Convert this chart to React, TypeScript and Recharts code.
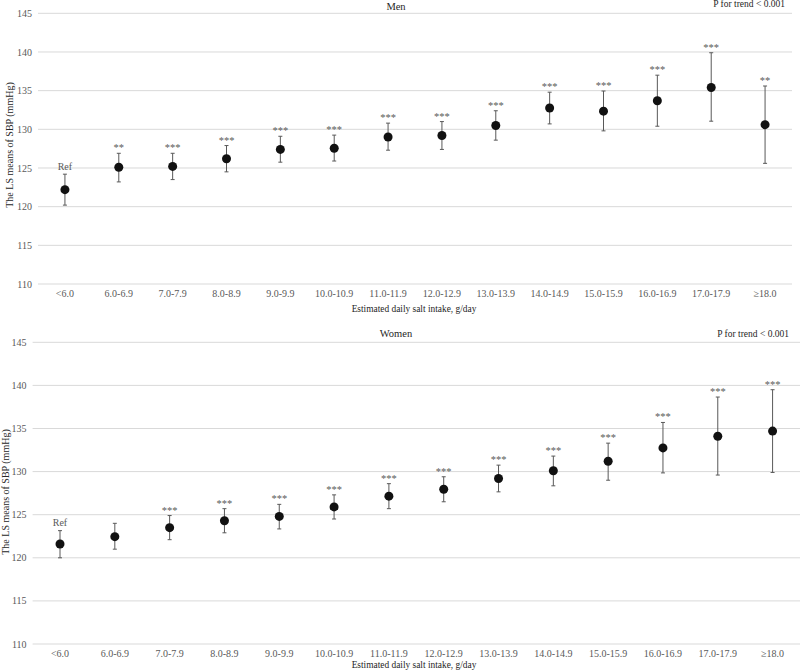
import React from "react";
import { LineChart, Line, XAxis, YAxis, CartesianGrid, ErrorBar } from "recharts";

const categories = [
  "<6.0",
  "6.0-6.9",
  "7.0-7.9",
  "8.0-8.9",
  "9.0-9.9",
  "10.0-10.9",
  "11.0-11.9",
  "12.0-12.9",
  "13.0-13.9",
  "14.0-14.9",
  "15.0-15.9",
  "16.0-16.9",
  "17.0-17.9",
  "≥18.0",
];
const yTicks = [110, 115, 120, 125, 130, 135, 140, 145];

// Men: LS means with lower / upper limits
const menMean = [122.2, 125.1, 125.2, 126.2, 127.4, 127.55, 129.0, 129.2, 130.5, 132.75, 132.35, 133.7, 135.4, 130.6];
const menLower = [120.2, 123.2, 123.5, 124.5, 125.75, 125.9, 127.3, 127.4, 128.6, 130.7, 129.8, 130.4, 131.05, 125.6];
const menUpper = [124.2, 126.9, 126.9, 127.9, 129.1, 129.25, 130.8, 131.0, 132.4, 134.8, 134.95, 137.0, 139.9, 135.6];
const menSig = ["Ref", "**", "***", "***", "***", "***", "***", "***", "***", "***", "***", "***", "***", "**"];

// Women
const womenMean = [121.6, 122.45, 123.5, 124.3, 124.8, 125.9, 127.15, 127.95, 129.2, 130.1, 131.2, 132.75, 134.1, 134.7];
const womenLower = [120.0, 121.0, 122.1, 122.9, 123.35, 124.5, 125.7, 126.5, 127.65, 128.35, 129.0, 129.85, 129.6, 129.9];
const womenUpper = [123.15, 124.0, 124.9, 125.7, 126.2, 127.3, 128.6, 129.4, 130.75, 131.8, 133.3, 135.7, 138.65, 139.5];
const womenSig = ["Ref", "", "***", "***", "***", "***", "***", "***", "***", "***", "***", "***", "***", "***"];

const FONT = "'Liberation Serif', 'Times New Roman', serif";

const buildRows = (mean: number[], lower: number[], upper: number[], sig: string[]) =>
  categories.map((cat, i) => ({
    cat,
    mean: mean[i],
    upper: upper[i],
    err: [mean[i] - lower[i], upper[i] - mean[i]],
    sig: sig[i],
  }));

const SigLabel = (props: any) => {
  const { cx, cy, payload, index } = props;
  if (!payload || !payload.sig) return <g key={`s${index}`} />;
  const isRef = payload.sig === "Ref";
  return (
    <text
      key={`s${index}`}
      x={cx}
      y={cy - (isRef ? 4.5 : 2)}
      textAnchor="middle"
      fontSize={isRef ? 10 : 10.5}
      fontFamily={FONT}
      fill="#595959"
    >
      {payload.sig}
    </text>
  );
};

interface PanelProps {
  rows: ReturnType<typeof buildRows>;
  top: number;
  height: number;
  marginTop: number;
  marginRight: number;
  yWidth: number;
  xHeight: number;
}

const Panel = ({ rows, top, height, marginTop, marginRight, yWidth, xHeight }: PanelProps) => (
  <div style={{ position: "absolute", left: 0, top }}>
    <LineChart
      width={800}
      height={height}
      data={rows}
      margin={{ top: marginTop, right: marginRight, bottom: 0, left: 0 }}
    >
      <CartesianGrid vertical={false} stroke="#d9d9d9" />
      <XAxis
        dataKey="cat"
        scale="band"
        interval={0}
        height={xHeight}
        axisLine={false}
        tickLine={false}
        tickSize={0}
        tickMargin={6}
        tick={{ fontSize: 10, fontFamily: FONT, fill: "#595959" }}
      />
      <YAxis
        type="number"
        domain={[110, 145]}
        ticks={yTicks}
        width={yWidth}
        axisLine={false}
        tickLine={false}
        tickSize={0}
        tickMargin={6}
        tick={{ fontSize: 10, fontFamily: FONT, fill: "#595959" }}
      />
      <Line
        dataKey="upper"
        stroke="none"
        dot={SigLabel}
        activeDot={false}
        isAnimationActive={false}
      />
      <Line
        dataKey="mean"
        stroke="none"
        dot={{ r: 4.5, fill: "#111111", stroke: "#111111", strokeWidth: 0 }}
        activeDot={false}
        isAnimationActive={false}
      >
        <ErrorBar dataKey="err" width={2} stroke="#595959" strokeWidth={1} direction="y" />
      </Line>
    </LineChart>
  </div>
);

const textStyle = { fontFamily: FONT, fill: "#262626" };

export default function App() {
  const menRows = buildRows(menMean, menLower, menUpper, menSig);
  const womenRows = buildRows(womenMean, womenLower, womenUpper, womenSig);
  return (
    <div
      style={{
        position: "absolute",
        left: 0,
        top: 0,
        width: 800,
        height: 670,
        background: "#ffffff",
        overflow: "hidden",
      }}
    >
      <Panel rows={menRows} top={0} height={318} marginTop={13.3} marginRight={8} yWidth={38} xHeight={34} />
      <Panel rows={womenRows} top={320} height={350} marginTop={22.3} marginRight={0} yWidth={32.6} xHeight={26} />
      <svg
        width={800}
        height={670}
        style={{ position: "absolute", left: 0, top: 0, pointerEvents: "none" }}
      >
        <text x={396} y={10} textAnchor="middle" fontSize={10.5} {...textStyle}>
          Men
        </text>
        <text x={785} y={7.3} textAnchor="end" fontSize={9.5} {...textStyle}>
          P for trend {"<"} 0.001
        </text>
        <text
          x={13}
          y={145}
          textAnchor="middle"
          fontSize={10}
          transform="rotate(-90 13 145)"
          {...textStyle}
        >
          The LS means of SBP (mmHg)
        </text>
        <text x={414} y={311.5} textAnchor="middle" fontSize={9.4} {...textStyle}>
          Estimated daily salt intake, g/day
        </text>

        <text x={396} y={337.3} textAnchor="middle" fontSize={10.5} {...textStyle}>
          Women
        </text>
        <text x={789} y={336.7} textAnchor="end" fontSize={9.5} {...textStyle}>
          P for trend {"<"} 0.001
        </text>
        <text
          x={8.5}
          y={492}
          textAnchor="middle"
          fontSize={10}
          transform="rotate(-90 8.5 492)"
          {...textStyle}
        >
          The LS means of SBP (mmHg)
        </text>
        <text x={414} y={668} textAnchor="middle" fontSize={9.4} {...textStyle}>
          Estimated daily salt intake, g/day
        </text>
      </svg>
    </div>
  );
}
